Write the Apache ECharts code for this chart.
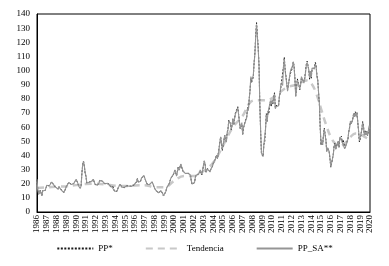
<!DOCTYPE html>
<html>
<head>
<meta charset="utf-8">
<script src="https://cdn.jsdelivr.net/npm/echarts@6/dist/echarts.min.js"></script>
<style>
  html, body { margin: 0; padding: 0; background: #fff; }
  #chart { width: 389px; height: 266px; }
</style>
</head>
<body>
<div id="chart"></div>
<script>
// monthly series, Jan 1986 .. Jan 2020
var startYear = 1986;

var ppValues = [
  22.9, 15.4, 12.6, 12.8, 15.4, 13.5, 11.6, 15.1, 14.9, 14.9, 15.2, 16.1,
  18.7, 17.7, 18.3, 18.6, 19.4, 20.0, 21.4, 20.3, 19.5, 19.8, 18.9, 17.3,
  17.1, 16.7, 16.2, 17.9, 17.4, 16.5, 15.5, 15.5, 14.5, 13.8, 14.0, 16.3,
  18.0, 17.8, 19.4, 21.0, 20.0, 20.0, 19.6, 18.5, 19.6, 20.1, 19.8, 21.1,
  22.9, 22.1, 20.4, 18.6, 18.2, 16.9, 18.6, 27.2, 33.7, 35.9, 32.3, 27.3,
  25.2, 20.5, 19.9, 20.8, 21.2, 20.2, 21.4, 21.7, 21.9, 23.2, 22.5, 19.5,
  18.8, 19.0, 18.9, 20.2, 20.9, 22.4, 21.8, 21.4, 21.9, 21.7, 20.3, 19.4,
  19.1, 20.1, 20.3, 20.3, 19.9, 19.1, 17.9, 18.0, 17.5, 18.1, 16.7, 14.5,
  15.0, 14.8, 14.7, 16.4, 17.9, 19.1, 19.7, 18.4, 17.5, 17.7, 18.1, 17.2,
  18.0, 18.5, 18.6, 19.9, 19.7, 18.4, 17.3, 18.0, 18.2, 17.4, 18.0, 19.0,
  18.9, 19.1, 21.4, 23.6, 21.3, 20.5, 21.3, 22.0, 24.0, 24.9, 23.7, 25.4,
  25.2, 22.2, 21.0, 19.7, 20.8, 19.2, 19.6, 19.9, 19.8, 21.3, 20.2, 18.3,
  16.7, 16.1, 15.0, 15.4, 14.9, 13.7, 14.1, 13.4, 15.0, 14.4, 12.9, 11.3,
  12.5, 12.0, 14.7, 17.3, 17.8, 17.9, 20.1, 21.3, 23.9, 22.6, 25.0, 26.1,
  27.3, 29.4, 29.9, 25.7, 28.8, 31.8, 29.7, 31.3, 33.9, 33.1, 34.4, 28.5,
  29.6, 29.6, 27.2, 27.4, 28.6, 27.6, 26.4, 27.4, 26.2, 22.2, 19.6, 19.3,
  19.7, 20.7, 24.4, 26.3, 27.0, 25.5, 26.9, 28.4, 29.7, 28.9, 26.3, 29.4,
  32.9, 35.9, 33.6, 28.3, 28.1, 30.7, 30.8, 31.6, 28.3, 30.3, 31.1, 32.1,
  34.3, 34.7, 36.7, 36.7, 40.3, 38.0, 40.7, 44.9, 45.9, 53.1, 48.5, 43.3,
  46.8, 48.0, 54.3, 53.0, 49.8, 56.3, 58.7, 65.0, 65.6, 62.4, 58.3, 59.4,
  65.5, 61.6, 62.9, 69.7, 70.9, 71.0, 74.4, 73.1, 63.9, 58.9, 59.1, 62.0,
  54.5, 59.3, 60.4, 64.0, 63.5, 67.5, 74.1, 72.4, 79.9, 85.8, 94.8, 91.7,
  93.0, 95.4, 105.5, 112.6, 125.4, 133.9, 133.4, 116.6, 103.9, 76.6, 57.3, 41.1,
  41.7, 39.1, 47.9, 49.6, 59.0, 69.6, 64.2, 71.1, 69.4, 75.7, 78.0, 74.5,
  78.3, 76.4, 81.2, 84.3, 73.7, 75.3, 76.3, 76.6, 75.2, 81.9, 84.3, 89.2,
  89.2, 88.6, 102.9, 109.5, 100.9, 96.3, 97.3, 86.3, 85.5, 86.3, 97.2, 98.6,
  100.3, 102.2, 106.2, 103.3, 94.7, 82.3, 87.9, 94.1, 94.5, 89.5, 86.5, 87.9,
  94.8, 95.3, 92.9, 92.0, 94.5, 95.8, 104.6, 106.6, 106.3, 100.5, 93.9, 97.6,
  94.6, 100.8, 100.8, 102.1, 102.2, 105.8, 103.6, 96.5, 93.2, 84.4, 75.8, 59.3,
  47.2, 50.6, 47.8, 54.5, 59.3, 59.8, 50.9, 42.9, 45.5, 46.2, 42.4, 37.2,
  31.7, 30.3, 37.5, 40.8, 46.7, 48.8, 44.7, 44.7, 45.2, 49.8, 45.7, 52.0,
  52.5, 53.5, 49.3, 51.1, 48.5, 45.2, 46.6, 48.0, 49.8, 51.6, 56.6, 57.9,
  63.7, 62.2, 62.7, 66.3, 70.0, 67.9, 71.0, 68.1, 70.2, 70.8, 57.0, 49.5,
  51.4, 55.0, 58.2, 63.9, 60.8, 54.7, 57.4, 54.8, 57.0, 54.0, 57.0, 59.9,
  57.5
];

var ppSaValues = [
  23.1, 15.6, 12.6, 12.7, 15.2, 13.4, 11.5, 14.9, 14.9, 14.9, 15.4, 16.4,
  18.9, 17.9, 18.3, 18.4, 19.2, 19.8, 21.2, 20.1, 19.5, 19.8, 19.1, 17.6,
  17.3, 16.9, 16.2, 17.7, 17.2, 16.3, 15.3, 15.3, 14.5, 13.8, 14.1, 16.6,
  18.2, 18.0, 19.4, 20.8, 19.8, 19.8, 19.4, 18.3, 19.6, 20.1, 20.0, 21.5,
  23.1, 22.3, 20.4, 18.4, 18.0, 16.7, 18.4, 26.9, 33.7, 35.9, 32.6, 27.8,
  25.5, 20.7, 19.9, 20.6, 21.0, 20.0, 21.2, 21.5, 21.9, 23.2, 22.7, 19.9,
  19.0, 19.2, 18.9, 20.0, 20.7, 22.2, 21.6, 21.2, 21.9, 21.7, 20.5, 19.8,
  19.3, 20.3, 20.3, 20.1, 19.7, 18.9, 17.7, 17.8, 17.5, 18.1, 16.9, 14.8,
  15.2, 14.9, 14.7, 16.2, 17.7, 18.9, 19.5, 18.2, 17.5, 17.7, 18.3, 17.5,
  18.2, 18.7, 18.6, 19.7, 19.5, 18.2, 17.1, 17.8, 18.2, 17.4, 18.2, 19.4,
  19.1, 19.3, 21.4, 23.4, 21.1, 20.3, 21.1, 21.8, 24.0, 24.9, 23.9, 25.9,
  25.5, 22.4, 21.0, 19.5, 20.6, 19.0, 19.4, 19.7, 19.8, 21.3, 20.4, 18.7,
  16.9, 16.3, 15.0, 15.2, 14.8, 13.6, 14.0, 13.3, 15.0, 14.4, 13.0, 11.5,
  12.6, 12.1, 14.7, 17.1, 17.6, 17.7, 19.9, 21.1, 23.9, 22.6, 25.3, 26.6,
  27.6, 29.7, 29.9, 25.4, 28.5, 31.5, 29.4, 31.0, 33.9, 33.1, 34.7, 29.1,
  29.9, 29.9, 27.2, 27.1, 28.3, 27.3, 26.1, 27.1, 26.2, 22.2, 19.8, 19.7,
  19.9, 20.9, 24.4, 26.0, 26.7, 25.2, 26.6, 28.1, 29.7, 28.9, 26.6, 30.0,
  33.2, 36.3, 33.6, 28.0, 27.8, 30.4, 30.5, 31.3, 28.3, 30.3, 31.4, 32.7,
  34.6, 35.0, 36.7, 36.3, 39.9, 37.6, 40.3, 44.5, 45.9, 53.1, 49.0, 44.2,
  47.3, 48.5, 54.3, 52.5, 49.3, 55.7, 58.1, 64.4, 65.6, 62.4, 58.9, 60.6,
  66.2, 62.2, 62.9, 69.0, 70.2, 70.3, 73.7, 72.4, 63.9, 58.9, 59.7, 63.2,
  55.0, 59.9, 60.4, 63.4, 62.9, 66.8, 73.4, 71.7, 79.9, 85.8, 95.7, 93.5,
  93.9, 96.4, 105.5, 111.5, 124.1, 132.6, 132.1, 115.4, 103.9, 76.6, 57.9, 41.9,
  42.1, 39.5, 47.9, 49.1, 58.4, 68.9, 63.6, 70.4, 69.4, 75.7, 78.8, 76.0,
  79.1, 77.2, 81.2, 83.5, 73.0, 74.5, 75.5, 75.8, 75.2, 81.9, 85.1, 91.0,
  90.1, 89.5, 102.9, 108.4, 99.9, 95.3, 96.3, 85.4, 85.5, 86.3, 98.2, 100.6,
  101.3, 103.2, 106.2, 102.3, 93.8, 81.5, 87.0, 93.2, 94.5, 89.5, 87.4, 89.7,
  95.7, 96.3, 92.9, 91.1, 93.6, 94.8, 103.6, 105.5, 106.3, 100.5, 94.8, 99.6,
  95.5, 101.8, 100.8, 101.1, 101.2, 104.7, 102.6, 95.5, 93.2, 84.4, 76.6, 60.5,
  47.7, 51.1, 47.8, 54.0, 58.7, 59.2, 50.4, 42.5, 45.5, 46.2, 42.8, 37.9,
  32.0, 30.6, 37.5, 40.4, 46.2, 48.3, 44.3, 44.3, 45.2, 49.8, 46.2, 53.0,
  53.0, 54.0, 49.3, 50.6, 48.0, 44.7, 46.1, 47.5, 49.8, 51.6, 57.2, 59.1,
  64.3, 62.8, 62.7, 65.6, 69.3, 67.2, 70.3, 67.4, 70.2, 70.8, 57.6, 50.5,
  51.9, 55.6, 58.2, 63.3, 60.2, 54.2, 56.8, 54.3, 57.0, 54.0, 57.6, 61.1,
  58.1
];

// trend read at a coarser step
var trendYears = [1986, 1987, 1988, 1989, 1990, 1991, 1992, 1993, 1994, 1995, 1996, 1997, 1998, 1999,
  2000, 2001, 2002, 2003, 2004, 2005, 2006, 2007, 2007.7, 2008.3, 2009, 2009.7, 2010.5, 2011.5,
  2012.5, 2013.5, 2014, 2014.5, 2015, 2015.5, 2016, 2016.5, 2017, 2017.5, 2018, 2018.5, 2019, 2019.5, 2020];
var trendValues = [17, 17.5, 17.8, 18.2, 19, 19.8, 20, 19.5, 18.5, 18.3, 18.8, 19, 17.5, 17.5,
  22, 25.5, 25.5, 29, 35, 47, 60, 68, 77, 79, 79, 79.5, 83, 88,
  90, 93, 91, 84, 73, 62, 53, 48, 47, 49, 53, 55.5, 55, 53, 51];

var yTicks = { min: 0, max: 140, step: 10 };
var legendNames = ['PP*', 'Tendencia', 'PP_SA**'];

var serif = "'Liberation Serif', 'DejaVu Serif', serif";

function toPoints(values) {
    return values.map(function (v, i) {
        return [startYear + i / 12, v];
    });
}

var chart = echarts.init(document.getElementById('chart'));
chart.setOption({
    animation: false,
    grid: {
        left: 37,
        right: 19,
        top: 14,
        bottom: 54,
        show: true,
        borderColor: '#000',
        borderWidth: 1
    },
    legend: {
        data: legendNames,
        left: 'center',
        top: 239,
        itemWidth: 36,
        itemHeight: 8,
        itemGap: 32,
        // only the line in the key, no marker
        itemStyle: { opacity: 0 },
        textStyle: { fontFamily: serif, fontSize: 9, color: '#000' }
    },
    xAxis: {
        type: 'value',
        min: 1986,
        max: 2020,
        interval: 1,
        axisLine: { show: true, lineStyle: { color: '#000' } },
        axisTick: { show: false },
        splitLine: { show: false },
        axisLabel: {
            rotate: 90,
            margin: 3,
            fontFamily: serif,
            fontSize: 9,
            color: '#000',
            formatter: function (v) { return String(v); }
        }
    },
    yAxis: {
        type: 'value',
        min: yTicks.min,
        max: yTicks.max,
        interval: yTicks.step,
        axisLine: { show: true, lineStyle: { color: '#000' } },
        axisTick: { show: false },
        splitLine: { show: false },
        axisLabel: { margin: 7, fontFamily: serif, fontSize: 9, color: '#000' }
    },
    series: [
        {
            name: 'PP*',
            type: 'line',
            showSymbol: false,
            symbol: 'none',
            data: toPoints(ppValues),
            itemStyle: { color: '#1a1a1a' },
            lineStyle: { color: '#1a1a1a', width: 1, type: [2, 1.5] },
            z: 2
        },
        {
            name: 'Tendencia',
            type: 'line',
            showSymbol: false,
            symbol: 'none',
            smooth: 0.4,
            data: trendYears.map(function (y, i) { return [y, trendValues[i]]; }),
            itemStyle: { color: '#c8c8c8' },
            lineStyle: { color: '#c8c8c8', width: 2.5, type: [7, 5] },
            z: 1
        },
        {
            name: 'PP_SA**',
            type: 'line',
            showSymbol: false,
            symbol: 'none',
            data: toPoints(ppSaValues),
            itemStyle: { color: '#959595' },
            lineStyle: { color: '#959595', width: 1.1 },
            z: 3
        }
    ]
});
</script>
</body>
</html>
